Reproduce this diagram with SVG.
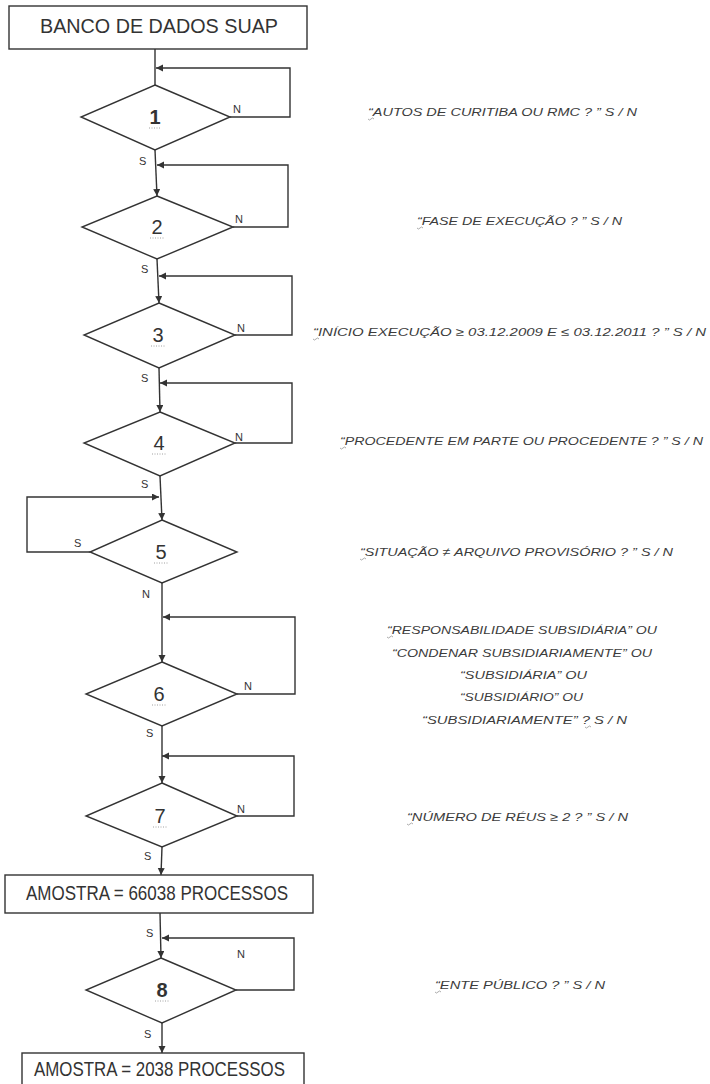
<svg xmlns="http://www.w3.org/2000/svg" width="710" height="1084" viewBox="0 0 710 1084">
<style>
.box{fill:#fff;stroke:#333;stroke-width:1.4}
.dia{fill:#fff;stroke:#333;stroke-width:1.4}
.ln{fill:none;stroke:#333;stroke-width:1.4}
.bt{font-family:"Liberation Sans",Arial,sans-serif;font-size:20px;fill:#333}
.num{font-family:"Liberation Sans",Arial,sans-serif;font-size:20px;fill:#333;text-anchor:middle}
.yn{font-family:"Liberation Sans",Arial,sans-serif;font-size:11px;fill:#333}
.lab{font-family:"Liberation Sans",Arial,sans-serif;font-size:11.5px;font-style:italic;fill:#3c3c3c}
.dot{fill:none;stroke:#888;stroke-width:0.8;stroke-dasharray:1 1.5}
.sq{fill:none;stroke:#888;stroke-width:0.7}
</style>
<defs>
<marker id="ah" markerUnits="userSpaceOnUse" markerWidth="8" markerHeight="8" refX="7" refY="3.5" orient="auto">
<path d="M0,0 L7,3.5 L0,7 z" fill="#333"/>
</marker>
</defs>

<g id="connectors">
<line class="ln" x1="155" y1="49" x2="155" y2="85"/>
<polyline class="ln" points="230,117 290,117 290,68 156,68" marker-end="url(#ah)"/>
<line class="ln" x1="155" y1="150" x2="157" y2="196" marker-end="url(#ah)"/>
<polyline class="ln" points="233,227 288,227 288,165 157,165" marker-end="url(#ah)"/>
<line class="ln" x1="157" y1="259" x2="159" y2="303" marker-end="url(#ah)"/>
<polyline class="ln" points="235,335 292,335 292,276 159,276" marker-end="url(#ah)"/>
<line class="ln" x1="159" y1="368" x2="160" y2="412" marker-end="url(#ah)"/>
<polyline class="ln" points="235,443 292,443 292,383 160,383" marker-end="url(#ah)"/>
<line class="ln" x1="160" y1="476" x2="162" y2="520" marker-end="url(#ah)"/>
<polyline class="ln" points="90,552 27,552 27,497 159,497" marker-end="url(#ah)"/>
<line class="ln" x1="162" y1="583" x2="162" y2="662" marker-end="url(#ah)"/>
<polyline class="ln" points="237,694 295,694 295,617 163,617" marker-end="url(#ah)"/>
<line class="ln" x1="162" y1="726" x2="162" y2="783" marker-end="url(#ah)"/>
<polyline class="ln" points="237,816 294,816 294,756 162,756" marker-end="url(#ah)"/>
<line class="ln" x1="162" y1="847" x2="161" y2="875" marker-end="url(#ah)"/>
<line class="ln" x1="160" y1="913" x2="161" y2="958" marker-end="url(#ah)"/>
<polyline class="ln" points="236,990 294,990 294,938 162,938" marker-end="url(#ah)"/>
<line class="ln" x1="162" y1="1023" x2="162" y2="1053" marker-end="url(#ah)"/>
</g>

<g id="start">
<rect class="box" x="9" y="6" width="298" height="43"/>
<text class="bt" x="40" y="33" textLength="238" lengthAdjust="spacingAndGlyphs">BANCO DE DADOS SUAP</text>
</g>

<g id="d1">
<polygon class="dia" points="155,85 230,117 155,150 81,117"/>
<text class="num" x="155" y="124" font-weight="bold">1</text>
<line class="dot" x1="149" y1="128" x2="161" y2="128"/>
<text class="yn" x="233" y="113">N</text>
<text class="yn" x="139" y="165">S</text>
</g>
<g id="d2">
<polygon class="dia" points="157,196 233,227 157,259 82,227"/>
<text class="num" x="157" y="234">2</text>
<line class="dot" x1="150" y1="238" x2="164" y2="238"/>
<text class="yn" x="235" y="223">N</text>
<text class="yn" x="141" y="273">S</text>
</g>
<g id="d3">
<polygon class="dia" points="159,303 235,335 159,368 84,335"/>
<text class="num" x="158" y="342">3</text>
<line class="dot" x1="151" y1="346" x2="165" y2="346"/>
<text class="yn" x="237" y="332">N</text>
<text class="yn" x="141" y="382">S</text>
</g>
<g id="d4">
<polygon class="dia" points="160,412 235,443 160,476 84,443"/>
<text class="num" x="159" y="450">4</text>
<line class="dot" x1="152" y1="454" x2="166" y2="454"/>
<text class="yn" x="235" y="441">N</text>
<text class="yn" x="141" y="488">S</text>
</g>
<g id="d5">
<polygon class="dia" points="162,520 237,552 162,583 90,552"/>
<text class="num" x="161" y="559">5</text>
<line class="dot" x1="154" y1="563" x2="168" y2="563"/>
<text class="yn" x="74" y="547">S</text>
<text class="yn" x="142" y="598">N</text>
</g>
<g id="d6">
<polygon class="dia" points="162,662 237,694 162,726 86,694"/>
<text class="num" x="159" y="701">6</text>
<line class="dot" x1="152" y1="705" x2="166" y2="705"/>
<text class="yn" x="244" y="690">N</text>
<text class="yn" x="146" y="737">S</text>
</g>
<g id="d7">
<polygon class="dia" points="162,783 237,816 162,847 86,816"/>
<text class="num" x="160" y="823">7</text>
<line class="dot" x1="153" y1="827" x2="167" y2="827"/>
<text class="yn" x="237" y="813">N</text>
<text class="yn" x="144" y="860">S</text>
</g>
<g id="sample1">
<rect class="box" x="5" y="875" width="308" height="38"/>
<text class="bt" x="26" y="900" textLength="262" lengthAdjust="spacingAndGlyphs">AMOSTRA = 66038 PROCESSOS</text>
<text class="yn" x="146" y="937">S</text>
</g>
<g id="d8">
<polygon class="dia" points="161,958 236,990 162,1023 86,990"/>
<text class="num" x="162" y="997" font-weight="bold">8</text>
<line class="dot" x1="155" y1="1001" x2="169" y2="1001"/>
<text class="yn" x="237" y="958">N</text>
<text class="yn" x="144" y="1038">S</text>
</g>
<g id="sample2">
<rect class="box" x="22" y="1053" width="282" height="45"/>
<text class="bt" x="34" y="1076" textLength="251" lengthAdjust="spacingAndGlyphs">AMOSTRA = 2038 PROCESSOS</text>
</g>

<g id="labels">
<text class="lab" x="368" y="116" textLength="269" lengthAdjust="spacingAndGlyphs">“AUTOS DE CURITIBA OU RMC  ? ” S / N</text>
<path class="sq" d="M368,119 q1.5,2 3,0 t3,0"/>
<text class="lab" x="417" y="225" textLength="205" lengthAdjust="spacingAndGlyphs">“FASE DE EXECUÇÃO  ? ” S / N</text>
<path class="sq" d="M417,228 q1.5,2 3,0 t3,0"/>
<text class="lab" x="313" y="336" textLength="393" lengthAdjust="spacingAndGlyphs">“INÍCIO EXECUÇÃO ≥ 03.12.2009 E ≤ 03.12.2011  ? ” S / N</text>
<path class="sq" d="M313,339 q1.5,2 3,0 t3,0"/>
<text class="lab" x="340" y="445" textLength="363" lengthAdjust="spacingAndGlyphs">“PROCEDENTE EM PARTE OU PROCEDENTE  ? ” S / N</text>
<path class="sq" d="M340,448 q1.5,2 3,0 t3,0"/>
<text class="lab" x="360" y="556" textLength="313" lengthAdjust="spacingAndGlyphs">“SITUAÇÃO ≠ ARQUIVO PROVISÓRIO  ? ” S / N</text>
<path class="sq" d="M360,559 q1.5,2 3,0 t3,0"/>
<text class="lab" x="387" y="634" textLength="270" lengthAdjust="spacingAndGlyphs">“RESPONSABILIDADE SUBSIDIÁRIA” OU</text>
<path class="sq" d="M387,637 q1.5,2 3,0 t3,0"/>
<text class="lab" x="392" y="657" textLength="260" lengthAdjust="spacingAndGlyphs">“CONDENAR SUBSIDIARIAMENTE” OU</text>
<text class="lab" x="460" y="679" textLength="127" lengthAdjust="spacingAndGlyphs">“SUBSIDIÁRIA” OU</text>
<text class="lab" x="460" y="701" textLength="123" lengthAdjust="spacingAndGlyphs">“SUBSIDIÁRIO” OU</text>
<text class="lab" x="422" y="724" textLength="205" lengthAdjust="spacingAndGlyphs">“SUBSIDIARIAMENTE” ? S / N</text>
<path class="sq" d="M585,727 q1.5,2 3,0 t3,0"/>
<text class="lab" x="407" y="821" textLength="221" lengthAdjust="spacingAndGlyphs">“NÚMERO DE RÉUS ≥ 2  ? ” S / N</text>
<path class="sq" d="M407,824 q1.5,2 3,0 t3,0"/>
<text class="lab" x="435" y="989" textLength="170" lengthAdjust="spacingAndGlyphs">“ENTE PÚBLICO  ? ” S / N</text>
<path class="sq" d="M435,992 q1.5,2 3,0 t3,0"/>
</g>
</svg>
